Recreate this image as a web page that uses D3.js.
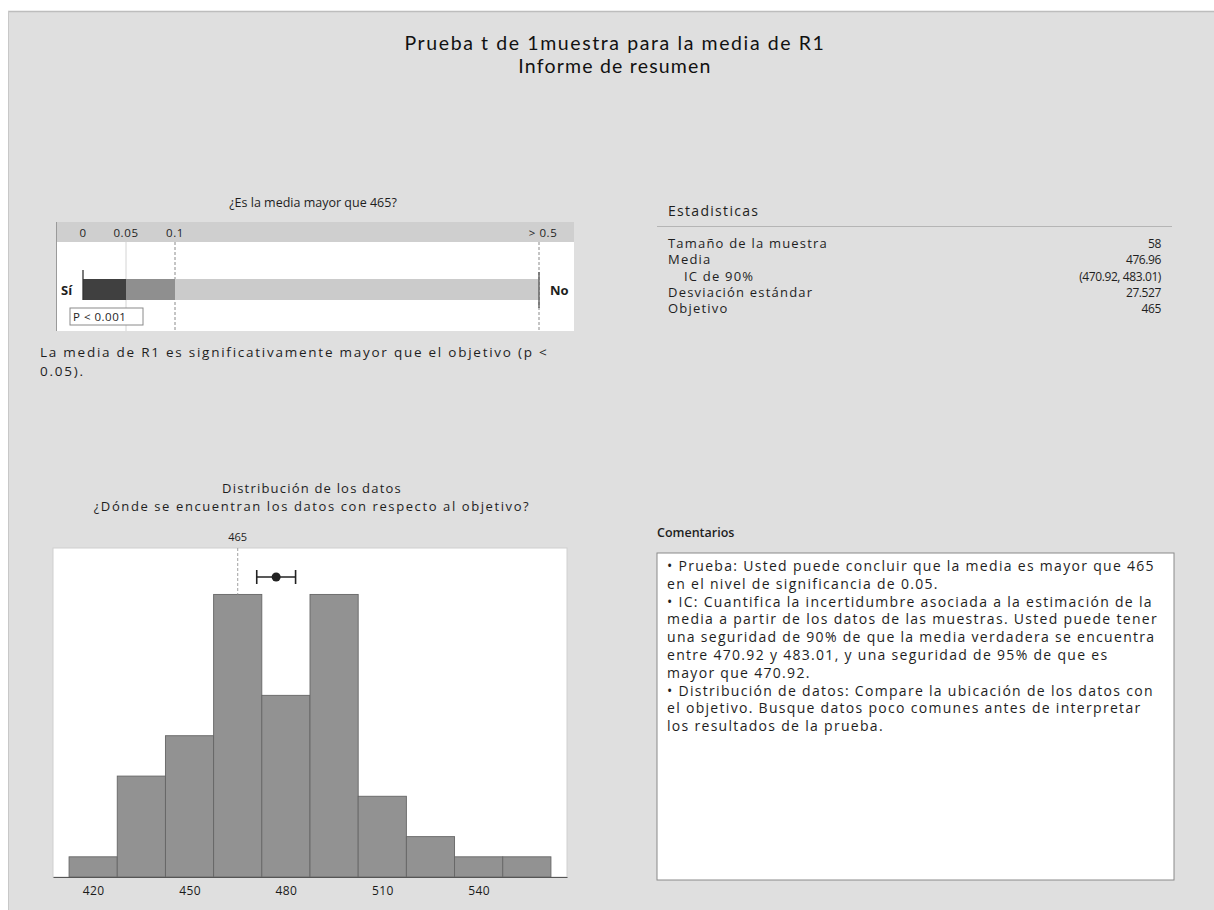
<!DOCTYPE html>
<html>
<head>
<meta charset="utf-8">
<script src="https://cdn.jsdelivr.net/npm/d3@7"></script>
<style>
  html, body { margin: 0; padding: 0; background: #ffffff; }
  svg { display: block; }
  .ui { font-family: "Open Sans", "Noto Sans", sans-serif; fill: #1e1e1e; }
  .title { font-family: Lato, "Open Sans", sans-serif; fill: #111; }
</style>
</head>
<body>
<svg id="chart" width="1214" height="910"></svg>
<script>
// ---- data ----
const titleLines = ["Prueba t de 1muestra para la media de R1", "Informe de resumen"];

// p-value scale (piecewise)
const pTicks = [0, 0.05, 0.1, 0.5];
const pTickLabels = ["0", "0.05", "0.1", "> 0.5"];
const pBandEdges = [0, 0.05, 0.1, 0.5];
const pValueLabel = "P < 0.001";
const pQuestion = "¿Es la media mayor que 465?";
const pConclusion = ["La media de R1 es significativamente mayor que el objetivo (p <", "0.05)."];

// summary statistics
const statHeader = "Estadisticas";
const statLabels = ["Tamaño de la muestra", "Media", "IC de 90%", "Desviación estándar", "Objetivo"];
const statValues = ["58", "476.96", "(470.92, 483.01)", "27.527", "465"];
const statIndent = [false, false, true, false, false];

// histogram
const binCenters = [420, 435, 450, 465, 480, 495, 510, 525, 540, 555];
const binCounts = [1, 5, 7, 14, 9, 14, 4, 2, 1, 1];
const binWidth = 15;
const xTicks = [420, 450, 480, 510, 540];
const targetValue = 465;
const meanValue = 476.96;
const ciLow = 470.92;
const ciHigh = 483.01;
const histTitle = ["Distribución de los datos", "¿Dónde se encuentran los datos con respecto al objetivo?"];

// comments
const commentHeader = "Comentarios";
const commentLines = [
  "•  Prueba: Usted puede concluir que la media es mayor que 465",
  "en el nivel de significancia de 0.05.",
  "•  IC: Cuantifica la incertidumbre asociada a la estimación de la",
  "media a partir de los datos de las muestras. Usted puede tener",
  "una seguridad de 90% de que la media verdadera se encuentra",
  "entre 470.92 y 483.01, y una seguridad de 95% de que es",
  "mayor que 470.92.",
  "•  Distribución de datos: Compare la ubicación de los datos con",
  "el objetivo. Busque datos poco comunes antes de interpretar",
  "los resultados de la prueba."
];

// ---- drawing ----
const svg = d3.select("#chart");

// report panel
svg.append("rect").attr("x", 8).attr("y", 11).attr("width", 1206).attr("height", 899)
  .attr("fill", "#dfdfdf");
svg.append("line").attr("x1", 8).attr("x2", 1214).attr("y1", 11.5).attr("y2", 11.5)
  .attr("stroke", "#bdbdbd").attr("stroke-width", 1.5);
svg.append("line").attr("x1", 8.5).attr("x2", 8.5).attr("y1", 11).attr("y2", 910)
  .attr("stroke", "#c8c8c8");

// title
svg.selectAll("text.title").data(titleLines).join("text")
  .attr("class", "title")
  .attr("x", 615).attr("y", (d, i) => 50 + i * 23)
  .attr("text-anchor", "middle")
  .attr("font-size", 19.5)
  .attr("letter-spacing", (d, i) => i ? 1.2 : 1.6)
  .text(d => d);

// ---- p-value bar ----
const pBox = { x: 56, y: 222, w: 518, h: 109, header: 20 };
const px = d3.scaleLinear().domain(pTicks).range([83, 126, 175, 539]);

svg.append("text").attr("class", "ui").attr("x", 313).attr("y", 207)
  .attr("text-anchor", "middle").attr("font-size", 12.5).text(pQuestion);

svg.append("rect").attr("x", pBox.x).attr("y", pBox.y).attr("width", pBox.w).attr("height", pBox.h)
  .attr("fill", "#ffffff");
svg.append("rect").attr("x", pBox.x).attr("y", pBox.y).attr("width", pBox.w).attr("height", pBox.header)
  .attr("fill", "#cfcfcf");
svg.append("line").attr("x1", pBox.x + 0.5).attr("x2", pBox.x + 0.5)
  .attr("y1", pBox.y).attr("y2", pBox.y + pBox.h).attr("stroke", "#9a9a9a");

svg.selectAll("text.ptick").data(pTicks).join("text")
  .attr("class", "ui ptick")
  .attr("x", (d, i) => px(d) + (i === pTicks.length - 1 ? 4 : 0))
  .attr("y", pBox.y + 15)
  .attr("text-anchor", "middle").attr("font-size", 11.5).attr("letter-spacing", 0.6)
  .text((d, i) => pTickLabels[i]);

// reference lines at 0.05, 0.1 and 0.5
const lineTop = pBox.y + pBox.header, lineBot = pBox.y + pBox.h;
svg.append("line").attr("x1", px(0.05)).attr("x2", px(0.05)).attr("y1", lineTop).attr("y2", lineBot)
  .attr("stroke", "#d4d4d4");
svg.append("line").attr("x1", px(0.1)).attr("x2", px(0.1)).attr("y1", lineTop).attr("y2", lineBot)
  .attr("stroke", "#8a8a8a").attr("stroke-dasharray", "3,2");
svg.append("line").attr("x1", px(0.5)).attr("x2", px(0.5)).attr("y1", lineTop).attr("y2", lineBot)
  .attr("stroke", "#8a8a8a").attr("stroke-dasharray", "3,2");

// shaded bands
const bandFill = ["#404040", "#8f8f8f", "#cbcbcb"];
const bands = d3.pairs(pBandEdges);
svg.selectAll("rect.band").data(bands).join("rect")
  .attr("class", "band")
  .attr("x", d => px(d[0])).attr("width", d => px(d[1]) - px(d[0]))
  .attr("y", 279).attr("height", 21)
  .attr("fill", (d, i) => bandFill[i]);

// end markers
svg.append("line").attr("x1", px(0)).attr("x2", px(0)).attr("y1", 270).attr("y2", 300)
  .attr("stroke", "#333").attr("stroke-width", 1.3);
svg.append("line").attr("x1", px(0.5)).attr("x2", px(0.5)).attr("y1", 272).attr("y2", 308)
  .attr("stroke", "#555").attr("stroke-width", 1.3);

svg.append("text").attr("class", "ui").attr("x", 61).attr("y", 295)
  .attr("font-size", 13).attr("font-weight", "bold").text("Sí");
svg.append("text").attr("class", "ui").attr("x", 550).attr("y", 295)
  .attr("font-size", 13).attr("font-weight", "bold").text("No");

// p-value marker label
svg.append("rect").attr("x", 70).attr("y", 308).attr("width", 73).attr("height", 17)
  .attr("fill", "#ffffff").attr("stroke", "#8a8a8a");
svg.append("text").attr("class", "ui").attr("x", 73).attr("y", 321)
  .attr("font-size", 11.5).attr("letter-spacing", 0.5).text(pValueLabel);

svg.selectAll("text.pconc").data(pConclusion).join("text")
  .attr("class", "ui pconc")
  .attr("x", 40).attr("y", (d, i) => 357 + i * 19)
  .attr("font-size", 13.5).attr("letter-spacing", 1.75).text(d => d);

// ---- statistics table ----
svg.append("text").attr("class", "ui").attr("x", 668).attr("y", 216)
  .attr("font-size", 14).attr("letter-spacing", 1.3).text(statHeader);
svg.append("line").attr("x1", 657).attr("x2", 1172).attr("y1", 226.5).attr("y2", 226.5)
  .attr("stroke", "#b5b5b5");
const statRows = svg.selectAll("g.statrow").data(statLabels).join("g").attr("class", "statrow");
statRows.append("text").attr("class", "ui")
  .attr("x", (d, i) => statIndent[i] ? 684 : 668)
  .attr("y", (d, i) => 248 + i * 16.3)
  .attr("font-size", 13).attr("letter-spacing", 1.2).text(d => d);
statRows.append("text").attr("class", "ui")
  .attr("x", 1161).attr("y", (d, i) => 248 + i * 16.3)
  .attr("text-anchor", "end").attr("font-size", 12).attr("letter-spacing", -0.4)
  .text((d, i) => statValues[i]);

// ---- histogram ----
svg.selectAll("text.htitle").data(histTitle).join("text")
  .attr("class", "ui htitle")
  .attr("x", 312).attr("y", (d, i) => 493 + i * 18)
  .attr("text-anchor", "middle").attr("font-size", 13).attr("letter-spacing", (d, i) => i ? 1.6 : 1.2)
  .text(d => d);

const plot = { left: 53, right: 567, top: 548, bottom: 877 };
const x = d3.scaleLinear().domain([407.5, 567.5]).range([plot.left, plot.right]);
const y = d3.scaleLinear().domain([0, 16.3]).range([plot.bottom, plot.top]);

svg.append("rect").attr("x", plot.left).attr("y", plot.top)
  .attr("width", plot.right - plot.left).attr("height", plot.bottom - plot.top)
  .attr("fill", "#ffffff").attr("stroke", "#d0d0d0");

const bins = binCenters.map((c, i) => ({ x0: c - binWidth / 2, x1: c + binWidth / 2, n: binCounts[i] }));
svg.selectAll("rect.bin").data(bins).join("rect")
  .attr("class", "bin")
  .attr("x", d => x(d.x0)).attr("width", d => x(d.x1) - x(d.x0))
  .attr("y", d => y(d.n)).attr("height", d => y(0) - y(d.n))
  .attr("fill", "#929292").attr("stroke", "#666").attr("stroke-width", 0.9);

// target reference line
svg.append("line").attr("x1", x(targetValue)).attr("x2", x(targetValue))
  .attr("y1", plot.top).attr("y2", y(d3.max(binCounts)))
  .attr("stroke", "#a0a0a0").attr("stroke-dasharray", "3,2");
svg.append("text").attr("class", "ui").attr("x", x(targetValue)).attr("y", 541)
  .attr("text-anchor", "middle").attr("font-size", 11).attr("fill", "#333").text(String(targetValue));

// confidence interval for the mean
const ciY = 577;
svg.append("line").attr("x1", x(ciLow)).attr("x2", x(ciHigh)).attr("y1", ciY).attr("y2", ciY)
  .attr("stroke", "#222").attr("stroke-width", 1.6);
[ciLow, ciHigh].forEach(v => {
  svg.append("line").attr("x1", x(v)).attr("x2", x(v)).attr("y1", ciY - 7).attr("y2", ciY + 7)
    .attr("stroke", "#222").attr("stroke-width", 1.6);
});
svg.append("circle").attr("cx", x(meanValue)).attr("cy", ciY).attr("r", 4.5).attr("fill", "#222");

// x axis
const xAxis = svg.append("g").attr("transform", `translate(0,${plot.bottom})`)
  .call(d3.axisBottom(x).tickValues(xTicks).tickSize(0).tickPadding(9));
xAxis.select(".domain").attr("stroke", "#555").attr("stroke-width", 1.2);
xAxis.selectAll("text").attr("font-family", "\"Open Sans\", sans-serif").attr("font-size", 12)
  .attr("letter-spacing", 0.4).attr("fill", "#1a1a1a");

// ---- comments ----
svg.append("text").attr("class", "ui").attr("x", 657).attr("y", 537)
  .attr("font-size", 12.5).attr("font-weight", 600).text(commentHeader);
svg.append("rect").attr("x", 657).attr("y", 553).attr("width", 517).attr("height", 327)
  .attr("fill", "#ffffff").attr("stroke", "#8a8a8a");
svg.selectAll("text.comment").data(commentLines).join("text")
  .attr("class", "ui comment")
  .attr("x", 667).attr("y", (d, i) => 571 + i * 17.8)
  .attr("font-size", 14).attr("letter-spacing", 1.3).text(d => d);
</script>
</body>
</html>
